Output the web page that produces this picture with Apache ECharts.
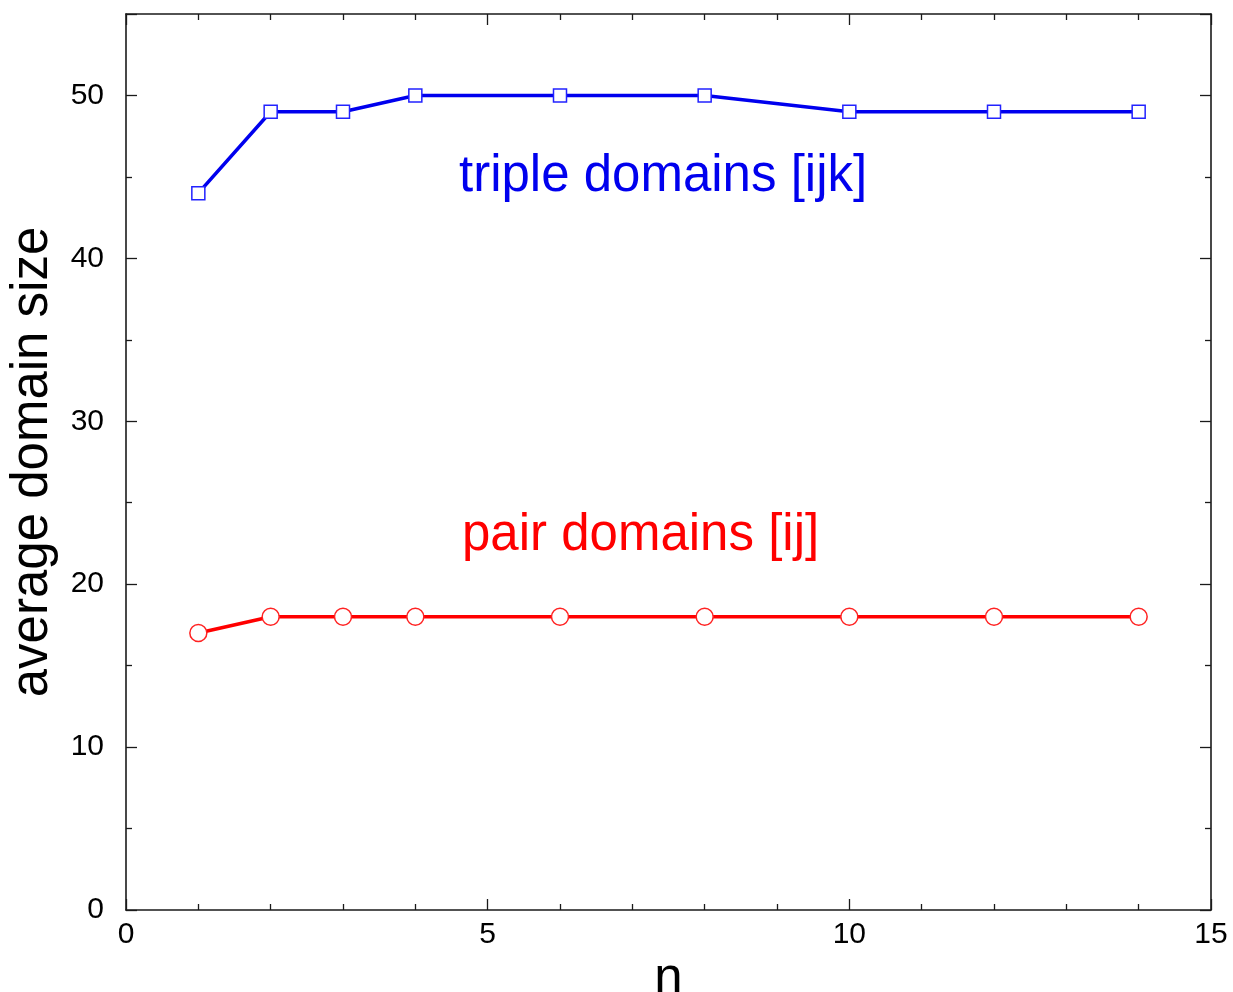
<!DOCTYPE html>
<html><head><meta charset="utf-8">
<script src="https://cdn.jsdelivr.net/npm/echarts@6/dist/echarts.min.js"></script>
<style>html,body{margin:0;padding:0;background:#fff}#c{width:1233px;height:992px}</style>
</head><body><div id="c"></div>
<script>
const nValues = [1, 2, 3, 4, 6, 8, 10, 12, 14];
const tripleSizes = [44, 49, 49, 50, 50, 50, 49, 49, 49];
const pairSizes = [17, 18, 18, 18, 18, 18, 18, 18, 18];
const tripleLabel = 'triple domains [ijk]';
const pairLabel = 'pair domains [ij]';

const chart = echarts.init(document.getElementById('c'), null, {renderer: 'canvas'});
const font = 'Liberation Sans, Arial, Helvetica, sans-serif';
const axisLine = {show: true, onZero: false, lineStyle: {color: '#1a1a1a', width: 1.6}};
function xAx(pos, labels) {
  return {
    type: 'value', position: pos, min: 0, max: 15, interval: 5,
    axisLine: axisLine,
    axisTick: {show: true, inside: true, length: 11, lineStyle: {color: '#1a1a1a', width: 1.3}},
    minorTick: {show: true, splitNumber: 5, length: 6, lineStyle: {color: '#1a1a1a', width: 1.3}},
    axisLabel: {show: labels, fontSize: 30, color: '#000', fontFamily: font, margin: 10},
    splitLine: {show: false}, minorSplitLine: {show: false},
    name: labels ? 'n' : '', nameLocation: 'middle', nameGap: 37,
    nameTextStyle: {fontSize: 51, color: '#000', fontFamily: font}
  };
}
function yAx(pos, labels) {
  return {
    type: 'value', position: pos, min: 0, max: 55, interval: 10,
    axisLine: axisLine,
    axisTick: {show: true, inside: true, length: 11, lineStyle: {color: '#1a1a1a', width: 1.3}},
    minorTick: {show: true, splitNumber: 2, length: 6, lineStyle: {color: '#1a1a1a', width: 1.3}},
    axisLabel: {show: labels, fontSize: 30, color: '#000', fontFamily: font, margin: 22, showMaxLabel: false},
    splitLine: {show: false}, minorSplitLine: {show: false},
    name: labels ? 'average domain size' : '', nameLocation: 'middle', nameGap: 68,
    nameTextStyle: {fontSize: 51, color: '#000', fontFamily: font}
  };
}
chart.setOption({
  animation: false,
  grid: {left: 126, top: 14, right: 22, bottom: 82, containLabel: false, outerBoundsMode: 'none'},
  xAxis: [xAx('bottom', true), xAx('top', false)],
  yAxis: [yAx('left', true), yAx('right', false)],
  series: [
    {type: 'line', xAxisIndex: 0, yAxisIndex: 0,
     data: nValues.map((n, i) => [n, tripleSizes[i]]),
     symbol: 'rect', symbolSize: 13, showAllSymbol: true,
     lineStyle: {color: '#0000ee', width: 3.5},
     itemStyle: {color: '#fff', borderColor: '#2222ff', borderWidth: 1.5}},
    {type: 'line', xAxisIndex: 0, yAxisIndex: 0,
     data: nValues.map((n, i) => [n, pairSizes[i]]),
     symbol: 'circle', symbolSize: 17, showAllSymbol: true,
     lineStyle: {color: '#ff0000', width: 3.5},
     itemStyle: {color: '#fff', borderColor: '#ff2222', borderWidth: 1.5}},
    {type: 'line', xAxisIndex: 1, yAxisIndex: 1, data: [], silent: true}
  ],
  graphic: [
    {type: 'text', left: 459, top: 151, style: {text: tripleLabel, fill: '#0000ee', font: '51px ' + font}},
    {type: 'text', left: 462, top: 510, style: {text: pairLabel, fill: '#ff0000', font: '51px ' + font}}
  ]
});
</script></body></html>
